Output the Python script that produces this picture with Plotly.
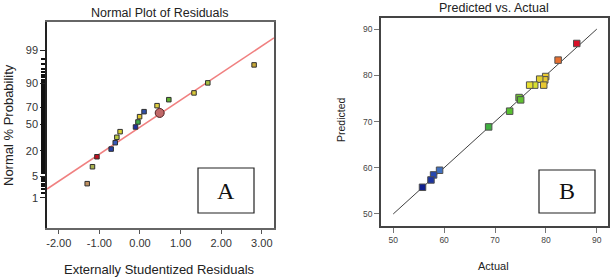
import plotly.graph_objects as go
from statistics import NormalDist

nd = NormalDist()

# ---------- Panel A: Normal plot of residuals ----------
resid = [2.81, 1.67, 1.33, 0.71, 0.42, 0.10, -0.01, -0.05, -0.11,
         -0.49, -0.57, -0.61, -0.71, -1.06, -1.17, -1.30]
resid_prob = [96.9, 90.3, 83.7, 77.9, 71.9, 65.2, 59.2, 52.6, 46.3,
              40.5, 33.8, 27.8, 21.5, 15.1, 8.9, 3.0]
resid_colors = ['#c8a838', '#a8c040', '#d8c838', '#60b030', '#e0d040', '#3050a8',
                '#e0c830', '#40a848', '#2030a0', '#d8d030', '#b8c840', '#3858b8',
                '#2840a8', '#c01020', '#a8b050', '#c09060']
hl_resid = [0.485]
hl_prob = [63.7]
fit_mean = 0.113
fit_sd = 1.172
probA_ticks = [1, 5, 20, 50, 70, 90, 99]
probA_minor = [1.5, 2, 2.5, 3, 3.5, 4, 4.5] + list(range(6, 20)) + list(range(21, 50)) \
    + list(range(51, 70)) + list(range(71, 90)) + list(range(91, 99))
xA_ticks = [-2, -1, 0, 1, 2, 3]
xA_labels = ['-2.00', '-1.00', '0.00', '1.00', '2.00', '3.00']

# ---------- Panel B: Predicted vs Actual ----------
actual = [86.06, 82.40, 79.96, 79.77, 78.78, 79.57, 77.80, 76.81,
          74.73, 75.04, 72.88, 68.75, 59.11, 57.93, 57.42, 55.76]
predicted = [86.89, 83.29, 79.74, 79.02, 79.17, 77.88, 77.88, 77.88,
             75.19, 74.69, 72.24, 68.84, 59.46, 58.45, 57.36, 55.78]
pred_colors = ['#d81028', '#e87030', '#e8c830', '#e8c830', '#e0d030', '#e8c830',
               '#d8e030', '#e8e030', '#70c830', '#60c030', '#58c030', '#40b040',
               '#4070c0', '#2848b0', '#1c34a0', '#102090']
diag = [50, 90]
B_ticks = [50, 60, 70, 80, 90]

z = lambda p: nd.inv_cdf(p / 100.0)

fig = go.Figure()

xA_range = [-2.29, 3.30]
yA_range = [-3.28, 3.22]
fig.add_trace(go.Scatter(
    x=xA_range, y=[(v - fit_mean) / fit_sd for v in xA_range],
    mode='lines', line=dict(color='#f08080', width=1.6),
    xaxis='x', yaxis='y', hoverinfo='skip', showlegend=False))
fig.add_trace(go.Scatter(
    x=resid, y=[z(p) for p in resid_prob], mode='markers',
    marker=dict(symbol='square', size=4.5, color=resid_colors,
                line=dict(color='#303030', width=1)),
    xaxis='x', yaxis='y', showlegend=False))
fig.add_trace(go.Scatter(
    x=hl_resid, y=[z(p) for p in hl_prob], mode='markers',
    marker=dict(symbol='circle', size=9, color='#c06868',
                line=dict(color='#502020', width=1)),
    xaxis='x', yaxis='y', showlegend=False))

fig.add_trace(go.Scatter(
    x=diag, y=diag, mode='lines', line=dict(color='#404040', width=1),
    xaxis='x2', yaxis='y2', hoverinfo='skip', showlegend=False))
fig.add_trace(go.Scatter(
    x=actual, y=predicted, mode='markers',
    marker=dict(symbol='square', size=6.5, color=pred_colors,
                line=dict(color='#505050', width=1)),
    xaxis='x2', yaxis='y2', showlegend=False))

W, H = 611, 280
def px(x):
    return x / W
def py(y):
    return 1 - y / H

tickfontA = dict(family='Liberation Sans, Arial, sans-serif', size=11, color='#333333')
tickfontB = dict(family='Liberation Sans, Arial, sans-serif', size=8.5, color='#444444')

fig.update_layout(
    width=W, height=H, margin=dict(l=0, r=0, t=0, b=0),
    paper_bgcolor='white', plot_bgcolor='white',
    font=dict(family='Liberation Sans, Arial, sans-serif'),
    xaxis=dict(domain=[px(47), px(274)], range=xA_range, anchor='y',
               tickmode='array', tickvals=xA_ticks, ticktext=xA_labels,
               ticks='outside', ticklen=4, tickcolor='#555', tickfont=tickfontA,
               showgrid=False, zeroline=False, showline=True, mirror=True,
               linecolor='#666', linewidth=1.5),
    yaxis=dict(domain=[py(228), py(22)], range=yA_range, anchor='x',
               tickmode='array', tickvals=[z(p) for p in probA_ticks],
               ticktext=[str(p) for p in probA_ticks],
               ticks='outside', ticklen=5, tickcolor='#222', tickfont=tickfontA,
               showgrid=False, zeroline=False, showline=True, mirror=True,
               linecolor='#555', linewidth=1.5),
    yaxis3=dict(domain=[py(228), py(22)], range=yA_range, anchor='x',
                overlaying='y', side='left',
                tickmode='array', tickvals=[z(p) for p in probA_minor],
                showticklabels=False, ticks='outside', ticklen=4,
                tickcolor='#111', tickwidth=1.5,
                showgrid=False, zeroline=False, showline=True,
                linecolor='#222', linewidth=1.5),
    xaxis2=dict(domain=[px(381), px(608)], range=[47.6, 92.2], anchor='y2',
                tickmode='array', tickvals=B_ticks,
                ticks='outside', ticklen=5, tickcolor='#777', tickfont=tickfontB,
                showgrid=False, zeroline=False, showline=True, mirror=True,
                linecolor='#444', linewidth=1.5),
    yaxis2=dict(domain=[py(226), py(18)], range=[47.4, 92.4], anchor='x2',
                tickmode='array', tickvals=B_ticks,
                ticks='outside', ticklen=5, tickcolor='#777', tickfont=tickfontB,
                showgrid=False, zeroline=False, showline=True, mirror=True,
                linecolor='#444', linewidth=1.5),
)
# invisible trace so the overlay axis carrying the minor ticks is drawn
fig.add_trace(go.Scatter(x=[None], y=[None], xaxis='x', yaxis='y3',
                         showlegend=False, hoverinfo='skip'))

ann = []
def add_text(text, x, y, size, rot=0, family='Liberation Sans, Arial, sans-serif', color='#222'):
    ann.append(dict(text=text, x=px(x), y=py(y), xref='paper', yref='paper',
                    showarrow=False, textangle=rot, xanchor='center', yanchor='middle',
                    font=dict(size=size, family=family, color=color)))

add_text('Normal Plot of Residuals', 160, 13, 12.5)
add_text('Predicted vs. Actual', 494, 8, 12.5)
add_text('Normal % Probability', 9, 125, 13, rot=-90)
add_text('Externally Studentized Residuals', 159, 269, 13)
add_text('Predicted', 341, 120, 10.5, rot=-90)
add_text('Actual', 494, 266, 11)
add_text('A', 226, 191, 24, family='Liberation Serif, Times New Roman, serif', color='#111')
add_text('B', 567, 191, 24, family='Liberation Serif, Times New Roman, serif', color='#111')
fig.update_layout(annotations=ann)

fig.update_layout(shapes=[
    dict(type='rect', xref='paper', yref='paper', x0=px(198), x1=px(254),
         y0=py(213), y1=py(168), line=dict(color='#222', width=1.2)),
    dict(type='rect', xref='paper', yref='paper', x0=px(539), x1=px(595),
         y0=py(213), y1=py(170), line=dict(color='#222', width=1.2)),
])

fig.write_html('out.html', config={'displayModeBar': False},
               post_script="document.body.style.margin='0';document.body.style.overflow='hidden';")
